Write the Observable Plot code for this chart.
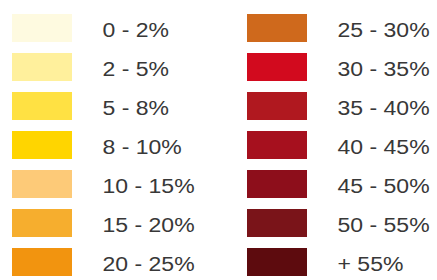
<!DOCTYPE html>
<html>
<head>
<meta charset="utf-8">
<script src="https://cdn.jsdelivr.net/npm/d3@7"></script>
<script src="https://cdn.jsdelivr.net/npm/@observablehq/plot@0.6"></script>
<style>
  html, body { margin: 0; padding: 0; background: #fff; }
</style>
</head>
<body>
<div id="chart"></div>
<script>
const labels = ["0 - 2%", "2 - 5%", "5 - 8%", "8 - 10%", "10 - 15%", "15 - 20%", "20 - 25%",
                "25 - 30%", "30 - 35%", "35 - 40%", "40 - 45%", "45 - 50%", "50 - 55%", "+ 55%"];
const colors = ["#fefae0", "#fff09c", "#ffe143", "#ffd500", "#fdca78", "#f6ae2e", "#f2940f",
                "#cf691c", "#d20a1e", "#b0181f", "#a6101e", "#8d0e1b", "#7a1419", "#5d0b0e"];

const rowsPerCol = 7;
const data = labels.map((label, i) => ({
  label,
  color: colors[i],
  col: Math.floor(i / rowsPerCol),
  row: i % rowsPerCol
}));

const swatchW = 60 / 235;
const textOff = 90 / 235;

const chart = Plot.plot({
  width: 437,
  height: 280,
  margin: 0,
  style: { fontFamily: "'Liberation Sans', Arial, sans-serif", background: "#fff" },
  x: { domain: [0, 1], range: [12, 247], axis: null },
  y: { type: "band", domain: d3.range(rowsPerCol), range: [12, 279], paddingInner: 0.27, paddingOuter: 0, axis: null },
  marks: [
    Plot.barX(data, { x1: d => d.col, x2: d => d.col + swatchW, y: "row", fill: "color" }),
    Plot.text(data, { x: d => d.col + textOff, y: "row", text: "label", textAnchor: "start",
                      fontSize: 19.5, fill: "#383838", dy: 2 })
  ]
});
document.getElementById("chart").append(chart);
// horizontally stretch the glyphs like the reference
chart.querySelectorAll("text").forEach(t => {
  const len = t.getComputedTextLength();
  t.setAttribute("textLength", (len * 1.18).toFixed(1));
  t.setAttribute("lengthAdjust", "spacingAndGlyphs");
});
</script>
</body>
</html>
